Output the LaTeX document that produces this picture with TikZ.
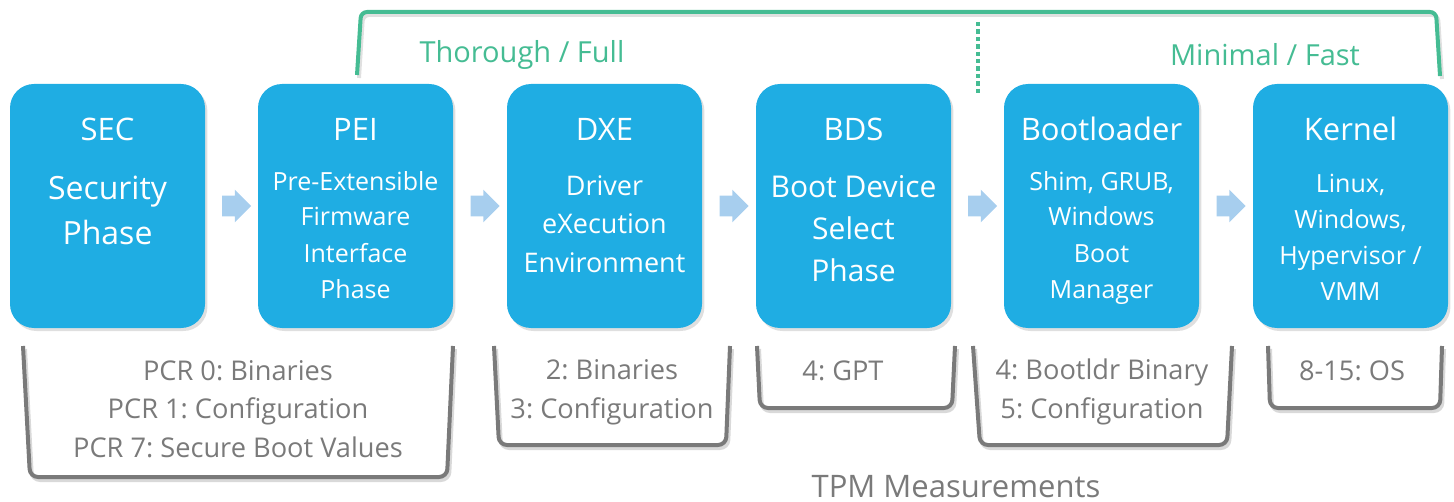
\documentclass[tikz,border=0pt]{standalone}
\usepackage{fontspec}
\setmainfont{Open Sans}
\frenchspacing
\usetikzlibrary{shapes.arrows,shadows}
\definecolor{phaseblue}{HTML}{1FADE3}
\definecolor{arrowblue}{HTML}{A7CEEE}
\definecolor{modegreen}{HTML}{45BC93}
\definecolor{pcrgray}{HTML}{7A7A7A}

\begin{document}
\begin{tikzpicture}[x=0.5pt,y=-0.5pt]
  \tikzset{phasebox/.style={rectangle,rounded corners=12pt,fill=phaseblue,minimum width=97.5pt,minimum height=122pt,inner sep=0pt,drop shadow={shadow xshift=1.2pt,shadow yshift=-1.5pt,opacity=0.25}}}
  \tikzset{phasetitle/.style={text=white,anchor=base,inner sep=0pt,font=\fontsize{15.5}{18}\selectfont}}
  \tikzset{phasetext/.style={text=white,align=center,anchor=base,inner sep=0pt}}
  \tikzset{nextarrow/.style={single arrow,fill=arrowblue,inner xsep=0pt,inner ysep=5pt,text height=0pt,text depth=0pt,minimum height=14.5pt,single arrow head extend=3pt}}
  \tikzset{pcrtext/.style={text=pcrgray,align=center,anchor=base,inner sep=0pt,font=\fontsize{13.6}{19.25}\selectfont}}
  \tikzset{pcrbracket/.style={draw=pcrgray,line width=2pt,rounded corners=4pt,preaction={draw=black!15,line width=2pt,transform canvas={shift={(1pt,-1.5pt)}}}}}
  \tikzset{modebracket/.style={draw=modegreen,line width=2pt,rounded corners=3pt,preaction={draw=black!12,line width=2pt,transform canvas={shift={(1pt,-1.5pt)}}}}}
  \tikzset{modetext/.style={text=modegreen,anchor=base,inner sep=0pt,font=\fontsize{14.5}{17}\selectfont}}
  \useasboundingbox (0,0) rectangle (1454,502);
  % boot phases
  \node[phasebox] (sec) at (107.5,206) {};
  \node[phasebox] (pei) at (355.5,206) {};
  \node[phasebox] (dxe) at (604.5,206) {};
  \node[phasebox] (bds) at (853.5,206) {};
  \node[phasebox] (boot) at (1101.5,206) {};
  \node[phasebox] (kern) at (1350.5,206) {};
  \node[phasetitle] (sectitle) at (107.5,141) {SEC};
  \node[phasetitle] (peititle) at (355.5,141) {PEI};
  \node[phasetitle] (dxetitle) at (604.5,141) {DXE};
  \node[phasetitle] (bdstitle) at (853.5,141) {BDS};
  \node[phasetitle] (boottitle) at (1101.5,141) {Bootloader};
  \node[phasetitle] (kerntitle) at (1350.5,141) {Kernel};
  % base anchor sits on the last line
  \node[phasetext,font=\fontsize{16}{22.5}\selectfont] (secsub) at (107.5,244) {Security\\Phase};
  \node[phasetext,font=\fontsize{12.5}{18}\selectfont] (peisub) at (355.5,298) {Pre-Extensible\\Firmware\\Interface\\Phase};
  \node[phasetext,font=\fontsize{13.5}{19.25}\selectfont] (dxesub) at (604.5,272) {Driver\\eXecution\\Environment};
  \node[phasetext,font=\fontsize{15}{21}\selectfont] (bdssub) at (853.5,281) {Boot Device\\Select\\Phase};
  \node[phasetext,font=\fontsize{12.5}{18}\selectfont] (bootsub) at (1101.5,298) {Shim, GRUB,\\Windows\\Boot\\Manager};
  \node[phasetext,font=\fontsize{12.5}{18}\selectfont] (kernsub) at (1350.5,300) {Linux,\\Windows,\\Hypervisor /\\VMM};
  % arrows between phases
  \node[nextarrow] (a1) at (231.5,206) {};
  \node[nextarrow] (a2) at (480,206) {};
  \node[nextarrow] (a3) at (729,206) {};
  \node[nextarrow] (a4) at (977.5,206) {};
  \node[nextarrow] (a5) at (1226,206) {};
  % measurement modes
  \draw[modebracket] (357,75) -- (361,12) -- (1436,12) -- (1440,76);
  \coordinate (splittop) at (978,22);
  \coordinate (splitbot) at (978,93);
  \draw[draw=modegreen,line width=2pt,dash pattern=on 2.2pt off 1.5pt] (splittop) -- (splitbot);
  \node[modetext] (thorough) at (522,63) {Thorough / Full};
  \node[modetext] (minimal) at (1265,66) {Minimal / Fast};
  % TPM measurements
  \draw[pcrbracket] (23,346) -- (30,477) -- (447,477) -- (453,346);
  \draw[pcrbracket] (494,346) -- (499,445) -- (726,445) -- (730,346);
  \draw[pcrbracket] (757,346) -- (760,408) -- (952,408) -- (955,346);
  \draw[pcrbracket] (973,346) -- (980,445) -- (1227,445) -- (1232,346);
  \draw[pcrbracket] (1268,346) -- (1270,408) -- (1440,408) -- (1442,346);
  \node[pcrtext] (pcrsec) at (238,457) {PCR 0: Binaries\\PCR 1: Configuration\\PCR 7: Secure Boot Values};
  \node[pcrtext] (pcrdxe) at (612,418) {2: Binaries\\3: Configuration};
  \node[pcrtext] (pcrbds) at (843,380) {4: GPT};
  \node[pcrtext] (pcrboot) at (1102,418) {4: Bootldr Binary\\5: Configuration};
  \node[pcrtext] (pcrkern) at (1352,380) {8-15: OS};
  \node[pcrtext,font=\fontsize{15.5}{18}\selectfont] (tpm) at (956,497) {TPM Measurements};
\end{tikzpicture}
\end{document}
